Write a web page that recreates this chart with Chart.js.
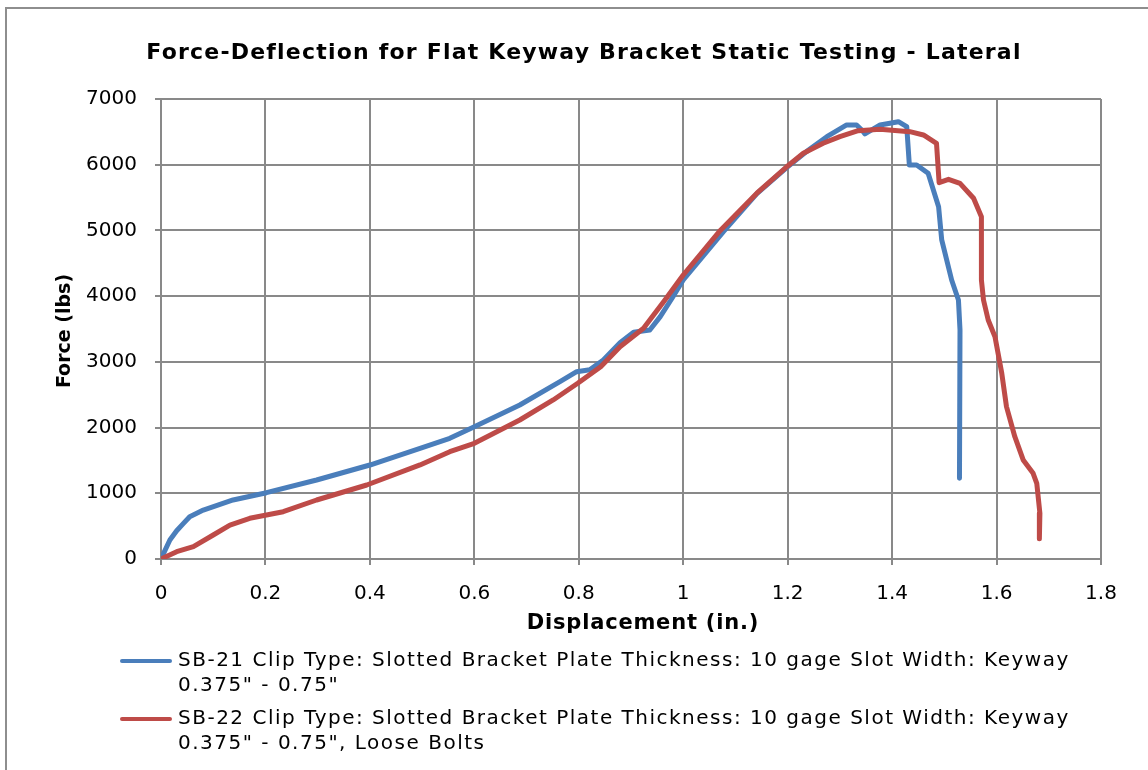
<!DOCTYPE html>
<html>
<head>
<meta charset="utf-8">
<script src="https://cdn.jsdelivr.net/npm/chart.js@4.4.1/dist/chart.umd.min.js"></script>
<style>
  html, body { margin: 0; padding: 0; background: #fff; overflow: hidden; }
  #frame {
    position: absolute; left: 5px; top: 7px; width: 1200px; height: 820px;
    border: 2px solid #8e8e8e; box-sizing: border-box;
  }
  #wrap { position: absolute; left: 0; top: 0; width: 1148px; height: 770px; }
  .legend { position: absolute; left: 120px; font-family: "DejaVu Sans", sans-serif; font-size: 20px; letter-spacing: 1.5px; color: #000; line-height: 25px; }
  .legend .sw { position: absolute; left: 0; top: 12px; width: 52px; height: 4px; border-radius: 2px; }
  .legend .txt { position: absolute; left: 58px; top: 0; white-space: pre; }
</style>
</head>
<body>
<div id="frame"></div>
<div id="wrap"><canvas id="forceChart" width="1148" height="770"></canvas></div>
<div class="legend" id="leg1" style="top:647px"><div class="sw" style="background:#4a7ebb"></div><div class="txt"></div></div>
<div class="legend" id="leg2" style="top:705px"><div class="sw" style="background:#be4b48"></div><div class="txt"></div></div>
<script>
// ==================== DATA ====================
const chartTitle = "Force-Deflection for Flat Keyway Bracket Static Testing - Lateral";
const xTitle = "Displacement (in.)";
const yTitle = "Force (lbs)";

const sb21Label = "SB-21 Clip Type: Slotted Bracket Plate Thickness: 10 gage Slot Width: Keyway\n0.375\" - 0.75\"";
const sb22Label = "SB-22 Clip Type: Slotted Bracket Plate Thickness: 10 gage Slot Width: Keyway\n0.375\" - 0.75\", Loose Bolts";

// SB-21 displacement (in.) / force (lbs)
const sb21Disp  = [0, 0.017, 0.030, 0.043, 0.055, 0.081, 0.138, 0.202, 0.298, 0.400, 0.496, 0.553, 0.600,
                   0.687, 0.764, 0.796, 0.821, 0.847, 0.879, 0.905, 0.936, 0.956, 0.978, 1.000, 1.077, 1.141,
                   1.197, 1.236, 1.275, 1.313, 1.332, 1.342, 1.348, 1.377, 1.412, 1.428, 1.433, 1.447, 1.469,
                   1.489, 1.495, 1.514, 1.527, 1.530, 1.529];
const sb21Force = [0, 290, 430, 543, 644, 745, 898, 1009, 1202, 1430, 1685, 1837, 2013,
                   2344, 2698, 2850, 2880, 3029, 3290, 3450, 3485, 3688, 3960, 4246, 4981, 5560,
                   5950, 6199, 6427, 6605, 6605, 6529, 6470, 6605, 6655, 6579, 5996, 5996, 5870,
                   5362, 4855, 4246, 3942, 3485, 1228];

// SB-22 displacement (in.) / force (lbs)
const sb22Disp  = [0, 0.030, 0.062, 0.100, 0.132, 0.170, 0.202, 0.234, 0.298, 0.394, 0.496, 0.553, 0.600,
                   0.687, 0.751, 0.798, 0.842, 0.879, 0.924, 0.965, 1.000, 1.071, 1.141, 1.197, 1.230, 1.268,
                   1.300, 1.335, 1.377, 1.434, 1.460, 1.485, 1.490, 1.508, 1.530, 1.556, 1.571, 1.571, 1.575,
                   1.584, 1.597, 1.610, 1.619, 1.635, 1.651, 1.670, 1.677, 1.683, 1.682];
const sb22Force = [0, 111, 187, 365, 517, 619, 670, 720, 898, 1126, 1431, 1633, 1761,
                   2115, 2420, 2674, 2927, 3231, 3511, 3942, 4322, 5000, 5566, 5961, 6174, 6326,
                   6427, 6518, 6540, 6503, 6453, 6326, 5727, 5778, 5717, 5489, 5209, 4246, 3942,
                   3637, 3383, 2826, 2318, 1861, 1507, 1304, 1152, 695, 310];

const xTicks = { min: 0, max: 1.8, step: 0.2 };
const yTicks = { min: 0, max: 7000, step: 1000 };

function toPoints(xs, ys) {
  return xs.map((x, i) => ({ x: x, y: ys[i] }));
}

// ==================== LEGEND (HTML) ====================
document.querySelector("#leg1 .txt").textContent = sb21Label;
document.querySelector("#leg2 .txt").textContent = sb22Label;

// ==================== TITLES PLUGIN ====================
const titlesPlugin = {
  id: "titles",
  afterDraw(chart) {
    const ctx = chart.ctx;
    ctx.save();
    ctx.fillStyle = "#000";
    ctx.textAlign = "center";
    ctx.textBaseline = "middle";
    ctx.font = "bold 22px 'DejaVu Sans'";
    ctx.letterSpacing = "1.2px";
    ctx.fillText(chartTitle, 584, 53);
    ctx.font = "bold 21px 'DejaVu Sans'";
    ctx.letterSpacing = "0.8px";
    ctx.fillText(xTitle, 643, 624);
    ctx.letterSpacing = "0px";
    ctx.translate(65, 331);
    ctx.rotate(-Math.PI / 2);
    ctx.font = "bold 19px 'DejaVu Sans'";
    ctx.fillText(yTitle, 0, 0);
    ctx.restore();
  }
};

// ==================== CHART ====================
const gridColor = "#898989";

new Chart(document.getElementById("forceChart"), {
  type: "scatter",
  data: {
    datasets: [{
      label: sb21Label,
      data: toPoints(sb21Disp, sb21Force),
      showLine: true,
      borderColor: "#4a7ebb",
      backgroundColor: "#4a7ebb",
      borderWidth: 5,
      pointRadius: 0,
      tension: 0,
      borderJoinStyle: "round",
      borderCapStyle: "round",
      order: 1
    }, {
      label: sb22Label,
      data: toPoints(sb22Disp, sb22Force),
      showLine: true,
      borderColor: "#be4b48",
      backgroundColor: "#be4b48",
      borderWidth: 5,
      pointRadius: 0,
      tension: 0,
      borderJoinStyle: "round",
      borderCapStyle: "round",
      order: 0
    }]
  },
  options: {
    responsive: false,
    animation: false,
    layout: { padding: { left: 0, right: 47, top: 99, bottom: 151 } },
    plugins: {
      legend: { display: false },
      title: { display: false },
      tooltip: { enabled: false }
    },
    scales: {
      x: {
        type: "linear",
        min: xTicks.min,
        max: xTicks.max,
        afterFit: (scale) => { scale.height = 60; },
        ticks: {
          stepSize: xTicks.step,
          color: "#000",
          font: { family: "DejaVu Sans", size: 20 },
          padding: 17,
          maxRotation: 0,
          callback: (v) => String(Number(v.toFixed(1)))
        },
        grid: { color: gridColor, lineWidth: 2, tickLength: 6, drawTicks: true },
        border: { color: gridColor, width: 2 }
      },
      y: {
        type: "linear",
        min: yTicks.min,
        max: yTicks.max,
        afterFit: (scale) => { scale.width = 161; },
        ticks: {
          stepSize: yTicks.step,
          color: "#000",
          font: { family: "DejaVu Sans", size: 20 },
          padding: 18,
          callback: (v) => String(v)
        },
        grid: { color: gridColor, lineWidth: 2, tickLength: 6, drawTicks: true },
        border: { color: gridColor, width: 2 }
      }
    }
  },
  plugins: [titlesPlugin]
});
</script>
</body>
</html>
